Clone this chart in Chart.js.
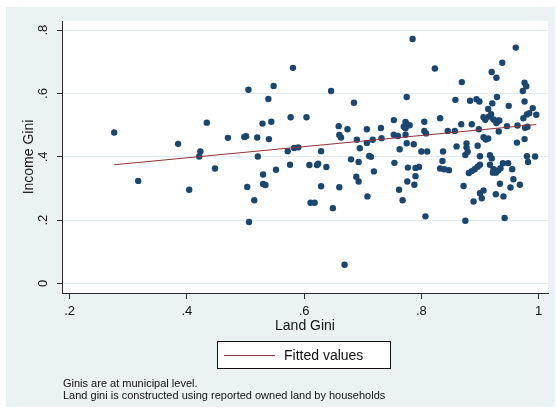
<!DOCTYPE html>
<html>
<head>
<meta charset="utf-8">
<script src="https://cdn.jsdelivr.net/npm/chart.js@4/dist/chart.umd.min.js"></script>
<style>
  html, body { margin: 0; padding: 0; background: #fff; }
  #wrap { position: relative; width: 556px; height: 408px; font-family: "Liberation Sans", Arial, sans-serif; color: #111; }
  #chart { position: absolute; left: 0; top: 0; }
  .legend { position: absolute; left: 217px; top: 341px; width: 172px; height: 26px; border: 1px solid #111; background: #fff; }
  .legend .swatch { position: absolute; left: 6px; top: 13px; width: 51px; height: 0; border-top: 1px solid rgb(144,53,59); }
  .legend .label { position: absolute; left: 66px; top: 0; line-height: 26px; font-size: 14px; white-space: nowrap; }
  .notes { position: absolute; left: 63px; top: 376.5px; font-size: 11px; line-height: 12.8px; white-space: nowrap; }
</style>
</head>
<body>
<div id="wrap">
  <canvas id="chart" width="556" height="408"></canvas>
  <div class="legend"><div class="swatch"></div><div class="label">Fitted values</div></div>
  <div class="notes">Ginis are at municipal level.<br>Land gini is constructed using reported owned land by households</div>
</div>
<script>
// Municipal land Gini (x) and income Gini (y)
const landGini = [
  0.276,0.317,0.385,0.404,0.423,0.421,0.434,0.448,0.470,0.498,
  0.501,0.503,0.505,0.506,0.515,0.520,0.521,0.529,0.530,0.530,
  0.534,0.539,0.540,0.544,0.548,0.552,0.572,0.576,0.577,0.581,
  0.583,0.590,0.604,0.609,0.611,0.618,0.622,0.624,0.629,0.629,
  0.638,0.646,0.649,0.659,0.660,0.663,0.660,0.669,0.674,0.680,
  0.685,0.689,0.690,0.693,0.693,0.695,0.707,0.707,0.708,0.711,
  0.714,0.717,0.719,0.731,0.732,0.753,0.753,0.760,0.754,0.762,
  0.763,0.768,0.773,0.775,0.770,0.780,0.773,0.773,0.775,0.775,
  0.776,0.777,0.785,0.787,0.788,0.790,0.790,0.796,0.800,0.805,
  0.805,0.808,0.807,0.810,0.823,0.832,0.832,0.836,0.837,0.839,
  0.847,0.845,0.857,0.858,0.860,0.868,0.869,0.872,0.875,0.875,
  0.879,0.877,0.877,0.881,0.883,0.886,0.886,0.889,0.891,0.894,
  0.896,0.896,0.898,0.899,0.900,0.900,0.900,0.903,0.906,0.906,
  0.909,0.906,0.910,0.914,0.915,0.914,0.917,0.917,0.919,0.920,
  0.920,0.921,0.923,0.923,0.922,0.927,0.928,0.929,0.928,0.930,
  0.931,0.933,0.927,0.932,0.934,0.935,0.938,0.939,0.940,0.942,
  0.948,0.946,0.949,0.952,0.955,0.957,0.961,0.963,0.964,0.968,
  0.973,0.974,0.976,0.976,0.976,0.977,0.979,0.980,0.981,0.980,
  0.982,0.984,0.990,0.994,0.996
];
const incomeGini = [
  0.477,0.324,0.441,0.296,0.417,0.401,0.508,0.363,0.460,0.463,
  0.465,0.305,0.612,0.194,0.263,0.461,0.401,0.505,0.344,0.314,
  0.311,0.583,0.456,0.511,0.624,0.359,0.418,0.375,0.525,0.681,
  0.428,0.430,0.525,0.374,0.255,0.255,0.374,0.378,0.418,0.307,
  0.368,0.608,0.238,0.497,0.469,0.461,0.304,0.059,0.487,0.392,
  0.571,0.337,0.454,0.384,0.322,0.427,0.487,0.444,0.275,0.403,
  0.400,0.454,0.354,0.491,0.459,0.516,0.470,0.466,0.381,0.296,
  0.424,0.263,0.510,0.503,0.495,0.500,0.490,0.470,0.589,0.443,
  0.322,0.366,0.772,0.440,0.312,0.339,0.365,0.368,0.417,0.511,
  0.482,0.474,0.212,0.417,0.679,0.522,0.363,0.387,0.417,0.361,
  0.358,0.482,0.482,0.580,0.433,0.503,0.636,0.308,0.198,0.406,
  0.416,0.442,0.430,0.349,0.577,0.503,0.355,0.259,0.361,0.582,
  0.369,0.435,0.487,0.575,0.402,0.375,0.285,0.269,0.294,0.525,
  0.517,0.462,0.455,0.458,0.527,0.551,0.405,0.375,0.535,0.668,
  0.395,0.569,0.518,0.361,0.350,0.350,0.650,0.589,0.507,0.514,
  0.357,0.515,0.282,0.480,0.315,0.364,0.697,0.380,0.275,0.207,
  0.380,0.497,0.561,0.303,0.361,0.329,0.745,0.445,0.499,0.312,
  0.608,0.522,0.634,0.575,0.456,0.492,0.623,0.534,0.495,0.402,
  0.384,0.538,0.554,0.401,0.533
];

// Linear fit, drawn between the smallest and largest land Gini
const fittedX = [0.276, 0.996];
const fittedY = [0.375, 0.502];

// Axis ticks
const xTicks = [0.2, 0.4, 0.6, 0.8, 1.0];
const xTickLabels = ['.2', '.4', '.6', '.8', '1'];
const yTicks = [0, 0.2, 0.4, 0.6, 0.8];
const yTickLabels = ['0', '.2', '.4', '.6', '.8'];

const xTitle = 'Land Gini';
const yTitle = 'Income Gini';

const PANEL = 'rgb(234,242,243)';
const GRID = 'rgb(226,236,239)';
const AXIS = '#2a2a2a';
const TEXT = '#151515';
const NAVY = 'rgb(26,71,111)';
const MAROON = 'rgb(144,53,59)';
const FONT = '"Liberation Sans", Arial, sans-serif';

const pts = landGini.map((x, i) => ({ x, y: incomeGini[i] }));
const fitPts = fittedX.map((x, i) => ({ x, y: fittedY[i] }));

const frame = {
  id: 'frame',
  beforeDraw(chart) {
    const { ctx, chartArea: a } = chart;
    ctx.save();
    ctx.fillStyle = '#fff';
    ctx.fillRect(0, 0, chart.width, chart.height);
    ctx.fillStyle = PANEL;
    ctx.fillRect(6, 7, 549, 400);
    ctx.fillStyle = '#fff';
    ctx.fillRect(a.left, a.top, a.right - a.left, a.bottom - a.top);
    ctx.restore();
  },
  afterDraw(chart) {
    const { ctx, chartArea: a, scales } = chart;
    ctx.save();
    ctx.fillStyle = TEXT;

    // x tick labels
    ctx.font = '13px ' + FONT;
    ctx.textAlign = 'center';
    ctx.textBaseline = 'alphabetic';
    xTicks.forEach((v, i) => {
      ctx.fillText(xTickLabels[i], scales.x.getPixelForValue(v), a.bottom + 22);
    });

    // y tick labels, rotated
    yTicks.forEach((v, i) => {
      ctx.save();
      ctx.translate(a.left - 15.5, scales.y.getPixelForValue(v));
      ctx.rotate(-Math.PI / 2);
      ctx.fillText(yTickLabels[i], 0, 0);
      ctx.restore();
    });

    // axis titles
    ctx.font = '14px ' + FONT;
    ctx.fillText(xTitle, (a.left + a.right) / 2, a.bottom + 36.5);
    ctx.save();
    ctx.translate(33.3, (a.top + a.bottom) / 2);
    ctx.rotate(-Math.PI / 2);
    ctx.fillText(yTitle, 0, 0);
    ctx.restore();

    ctx.restore();
  }
};

new Chart(document.getElementById('chart'), {
  type: 'scatter',
  data: {
    datasets: [
      {
        label: 'Fitted values',
        data: fitPts,
        showLine: true,
        borderColor: MAROON,
        borderWidth: 1.1,
        pointRadius: 0,
        order: 0
      },
      {
        label: 'Income Gini',
        data: pts,
        backgroundColor: NAVY,
        pointRadius: 3.2,
        pointBorderWidth: 0,
        borderWidth: 0,
        order: 1
      }
    ]
  },
  options: {
    responsive: false,
    animation: false,
    devicePixelRatio: 1,
    layout: { padding: { left: 0, top: 21, right: 8, bottom: 0 } },
    plugins: { legend: { display: false }, tooltip: { enabled: false } },
    scales: {
      x: {
        type: 'linear',
        min: 0.187,
        max: 1.016,
        afterBuildTicks: s => { s.ticks = xTicks.map(v => ({ value: v })); },
        afterFit: s => { s.height = 115; },
        ticks: { display: false },
        grid: { color: 'rgba(0,0,0,0)', tickColor: AXIS, tickLength: 6, drawTicks: true },
        border: { color: AXIS, width: 1 }
      },
      y: {
        type: 'linear',
        min: -0.030,
        max: 0.829,
        afterBuildTicks: s => { s.ticks = yTicks.map(v => ({ value: v })); },
        afterFit: s => { s.width = 62; },
        ticks: { display: false },
        grid: { color: GRID, lineWidth: 1, tickColor: AXIS, tickLength: 5, drawTicks: true },
        border: { color: AXIS, width: 1 }
      }
    }
  },
  plugins: [frame]
});
</script>
</body>
</html>
